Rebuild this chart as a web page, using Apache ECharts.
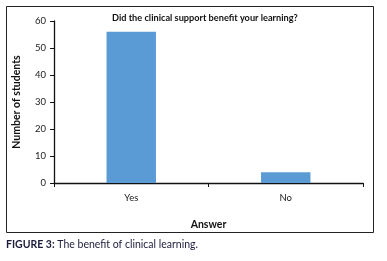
<!DOCTYPE html>
<html>
<head>
<meta charset="utf-8">
<script src="https://cdn.jsdelivr.net/npm/echarts@6/dist/echarts.min.js"></script>
<style>
  html, body { margin: 0; padding: 0; background: #fff; }
  #chart { width: 387px; height: 261px; }
</style>
</head>
<body>
<div id="chart"></div>
<script>
const categories = ['Yes', 'No']
const students = [56, 4]
const yTicks = [0, 10, 20, 30, 40, 50, 60]

const font = 'Lato, "Open Sans", sans-serif'
const chart = echarts.init(document.getElementById('chart'))

chart.setOption({
  animation: false,
  backgroundColor: '#fff',
  title: {
    text: 'Did the clinical support benefit your learning?',
    left: 107,
    top: 9,
    textStyle: { fontFamily: font, fontSize: 9.2, fontWeight: 'bold', color: '#111' }
  },
  grid: { left: 54, top: 21, right: 24, bottom: 78 },
  xAxis: {
    type: 'category',
    data: categories,
    name: 'Answer',
    nameLocation: 'middle',
    nameGap: 36,
    nameTextStyle: { fontFamily: font, fontSize: 10.5, fontWeight: 'bold', color: '#111' },
    axisLine: { lineStyle: { color: '#111', width: 1.3 } },
    axisTick: { show: true, length: 4, alignWithLabel: false, lineStyle: { color: '#111' } },
    axisLabel: { fontFamily: font, fontSize: 9.5, color: '#222', margin: 10 }
  },
  yAxis: {
    type: 'value',
    min: yTicks[0],
    max: yTicks[yTicks.length - 1],
    interval: 10,
    name: 'Number of students',
    nameLocation: 'middle',
    nameGap: 32,
    nameTextStyle: { fontFamily: font, fontSize: 10.5, fontWeight: 'bold', color: '#111' },
    axisLine: { show: true, lineStyle: { color: '#111', width: 1.3 } },
    axisTick: { show: true, length: 4, lineStyle: { color: '#111' } },
    axisLabel: { fontFamily: font, fontSize: 9.5, color: '#222', margin: 8 },
    splitLine: { show: false }
  },
  series: [
    {
      type: 'bar',
      data: students,
      barWidth: '32%',
      itemStyle: { color: '#5b9bd5' }
    }
  ],
  graphic: [
    {
      type: 'rect',
      shape: { x: 6.5, y: 6.5, width: 367, height: 226 },
      style: { fill: 'none', stroke: '#222', lineWidth: 1 },
      silent: true
    },
    {
      type: 'text',
      left: 6,
      top: 239,
      style: {
        text: '{b|FIGURE 3:} The benefit of clinical learning.',
        fontFamily: font,
        fontSize: 10.5,
        fill: '#1c1c3c',
        rich: {
          b: { fontFamily: font, fontSize: 10.5, fontWeight: 'bold', fill: '#1c1c3c' }
        }
      }
    }
  ]
})
</script>
</body>
</html>
